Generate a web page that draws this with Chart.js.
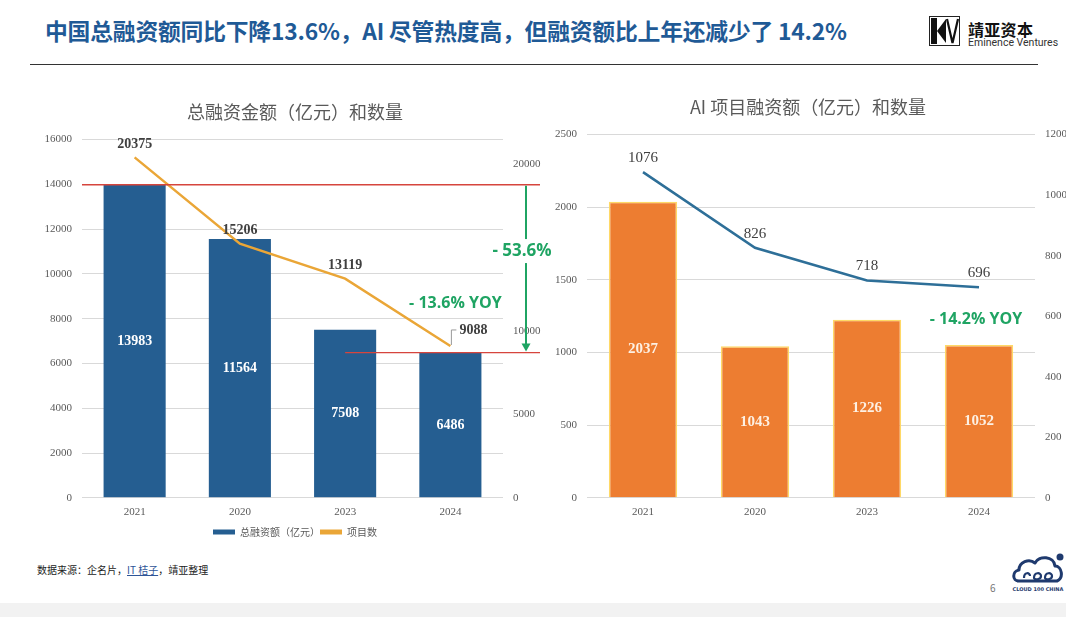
<!DOCTYPE html>
<html>
<head>
<meta charset="utf-8">
<script src="https://cdn.jsdelivr.net/npm/chart.js@4.4.1/dist/chart.umd.min.js"></script>
<style>
  html, body { margin:0; padding:0; background:#fff; }
  body { width:1066px; height:617px; position:relative; overflow:hidden; font-family:"Noto Sans CJK SC","Noto Sans",sans-serif; }
  #title { position:absolute; left:45px; top:14px; font-size:22.8px; font-weight:bold; color:#1f5a96; white-space:nowrap; letter-spacing:-0.2px; }
  #rule { position:absolute; left:30px; top:64px; width:1008px; height:0; border-top:1.5px solid #333; }
  #logo { position:absolute; left:929px; top:16px; }
  #logoCn { position:absolute; left:968px; top:21px; font-size:16px; line-height:16px; font-weight:bold; color:#111; letter-spacing:0.3px; }
  #logoEn { position:absolute; left:968px; top:37px; font-size:10.5px; line-height:11px; color:#333; font-family:"Roboto","Liberation Sans",sans-serif; white-space:nowrap; }
  #c1 { position:absolute; left:0; top:85px; }
  #c2 { position:absolute; left:545px; top:80px; }
  #source { position:absolute; left:37px; top:562px; font-size:10px; color:#222; white-space:nowrap; }
  #source span { color:#2f5597; text-decoration:underline; }
  #page { position:absolute; left:990px; top:580px; font-size:10px; color:#777; }
  #cloud { position:absolute; left:1010px; top:551px; }
  #strip { position:absolute; left:0; top:603px; width:1066px; height:14px; background:#f2f2f2; }
</style>
</head>
<body>
<div id="title">中国总融资额同比下降13.6%，AI 尽管热度高，但融资额比上年还减少了 14.2%</div>
<svg id="logo" width="32" height="31" viewBox="0 0 32 31">
  <rect x="0.5" y="0.5" width="30" height="29" fill="none" stroke="#222" stroke-width="1"/>
  <rect x="2" y="2" width="6" height="26" fill="#111"/>
  <polygon points="8,15 17,3 17,27" fill="#111"/>
  <polyline points="18,3 23.5,27 29,3" fill="none" stroke="#111" stroke-width="2.2"/>
</svg>
<div id="logoCn">靖亚资本</div>
<div id="logoEn">Eminence Ventures</div>
<div id="rule"></div>

<canvas id="c1" width="560" height="470"></canvas>
<canvas id="c2" width="521" height="450"></canvas>

<div id="source">数据来源：企名片，<span>IT 桔子</span>，靖亚整理</div>
<div id="page">6</div>
<svg id="cloud" width="56" height="42" viewBox="0 0 56 42">
  <path d="M9 30 C2 30 2 20 9 19 C9 11 19 7 25 12 C29 4 44 5 45 15 C52 15 54 27 47 30 Z" fill="none" stroke="#1f3a6e" stroke-width="3" stroke-linejoin="round"/>
  <path d="M14 27 C14 21 20 21 20 25 M24 27 C24 21 31 21 31 25 C31 29 24 29 24 27 M35 27 C35 21 42 21 42 25 C42 29 35 29 35 27" fill="none" stroke="#1f3a6e" stroke-width="2.2"/>
  <circle cx="50" cy="6" r="3.5" fill="#1f3a6e"/>
  <text x="28" y="40" font-size="5" text-anchor="middle" fill="#1f3a6e" font-family="DejaVu Sans" font-weight="bold">CLOUD 100 CHINA</text>
</svg>
<div id="strip"></div>

<script>
// ---------- data ----------
const categories = ['2021', '2020', '2023', '2024'];
const totalFunding = [13983, 11564, 7508, 6486];      // 总融资额（亿元）
const projectCount = [20375, 15206, 13119, 9088];     // 项目数
const aiFunding = [2037, 1043, 1226, 1052];           // AI 项目融资额（亿元）
const aiProjectCount = [1076, 826, 718, 696];         // AI 项目数量
const leftCountTicks = [0, 5000, 10000, 15000, 20000];

const TICK_FONT = { family: '"Liberation Serif", serif', size: 11 };
const TICK_COLOR = '#595959';
const GRID = '#d9d9d9';
const plain = v => String(v);

// value labels plugin
const valueLabels = {
  id: 'valueLabels',
  afterDatasetsDraw(chart) {
    const ctx = chart.ctx;
    chart.data.datasets.forEach((ds, i) => {
      const st = ds.labelStyle;
      if (!st) return;
      const meta = chart.getDatasetMeta(i);
      ctx.save();
      ctx.font = st.font;
      ctx.fillStyle = st.color;
      ctx.textAlign = 'center';
      ctx.textBaseline = 'middle';
      meta.data.forEach((el, j) => {
        if (st.skip && st.skip.includes(j)) return;
        const txt = String(ds.data[j]);
        const y = st.mode === 'center' ? (el.y + el.base) / 2 : el.y - st.offset;
        ctx.fillText(txt, el.x, y);
      });
      ctx.restore();
    });
  }
};

function legendLabels(chart) {
  const items = Chart.defaults.plugins.legend.labels.generateLabels(chart);
  items.sort((a, b) => a.datasetIndex - b.datasetIndex);
  return items.map(it => {
    const ds = chart.data.datasets[it.datasetIndex];
    it.fillStyle = ds.type === 'line' ? ds.borderColor : ds.backgroundColor;
    it.strokeStyle = it.fillStyle;
    it.lineWidth = 0;
    return it;
  });
}

// ---------- left chart annotations ----------
const leftNotes = {
  id: 'leftNotes',
  afterDraw(chart) {
    const ctx = chart.ctx;
    const y = chart.scales.y, x = chart.scales.x;
    const area = chart.chartArea;
    const rightEnd = 540;
    const topY = y.getPixelForValue(totalFunding[0]);
    const lowY = y.getPixelForValue(totalFunding[3]);
    ctx.save();
    ctx.strokeStyle = '#d6453d';
    ctx.lineWidth = 1.4;
    ctx.beginPath();
    ctx.moveTo(area.left, topY); ctx.lineTo(rightEnd, topY);
    ctx.moveTo(x.getPixelForValue(2), lowY); ctx.lineTo(rightEnd, lowY);
    ctx.stroke();
    const ax = 526;
    ctx.strokeStyle = '#1fa463';
    ctx.fillStyle = '#1fa463';
    ctx.lineWidth = 2;
    ctx.beginPath();
    ctx.moveTo(ax, topY + 1); ctx.lineTo(ax, lowY - 8);
    ctx.stroke();
    ctx.beginPath();
    ctx.moveTo(ax - 4.5, lowY - 9); ctx.lineTo(ax + 4.5, lowY - 9); ctx.lineTo(ax, lowY - 1); ctx.closePath();
    ctx.fill();
    const ly = topY + (lowY - topY) * 0.395;
    ctx.font = 'bold 17px "Open Sans", "Noto Sans", sans-serif';
    ctx.textAlign = 'center';
    ctx.textBaseline = 'middle';
    const w = ctx.measureText('- 53.6%').width;
    ctx.fillStyle = '#fff';
    ctx.fillRect(522 - w / 2 - 2, ly - 12, w + 4, 24);
    ctx.fillStyle = '#1fa463';
    ctx.fillText('- 53.6%', 522, ly);
    ctx.font = 'bold 16px "Open Sans", "Noto Sans", sans-serif';
    ctx.fillText('- 13.6% YOY', x.getPixelForValue(3) + 5, y.getPixelForValue(8700));
    const p = chart.getDatasetMeta(1).data[3];
    ctx.strokeStyle = '#999';
    ctx.lineWidth = 1;
    ctx.beginPath();
    ctx.moveTo(p.x + 1, p.y - 1); ctx.lineTo(p.x + 1, p.y - 16); ctx.lineTo(p.x + 6, p.y - 16);
    ctx.stroke();
    ctx.font = 'bold 14px "Liberation Serif", serif';
    ctx.fillStyle = '#404040';
    ctx.textAlign = 'left';
    ctx.fillText(String(projectCount[3]), p.x + 9, p.y - 16);
    ctx.restore();
  }
};

const rightNotes = {
  id: 'rightNotes',
  afterDraw(chart) {
    const ctx = chart.ctx;
    ctx.save();
    ctx.font = 'bold 16px "Open Sans", "Noto Sans", sans-serif';
    ctx.fillStyle = '#1fa463';
    ctx.textAlign = 'center';
    ctx.textBaseline = 'middle';
    ctx.fillText('- 14.2% YOY', chart.scales.x.getPixelForValue(3) - 3, chart.scales.y.getPixelForValue(1229));
    ctx.restore();
  }
};

function titleOpts(text) {
  return {
    display: true, text,
    color: '#595959',
    font: { family: '"Noto Sans CJK SC", sans-serif', size: 18, weight: 'normal' },
    padding: { top: 16, bottom: 17 }
  };
}

function xScale() {
  return {
    grid: { display: false, drawTicks: false }, border: { display: false },
    ticks: { color: TICK_COLOR, font: TICK_FONT, padding: 8 }
  };
}

// ---------- chart 1 ----------
new Chart(document.getElementById('c1'), {
  data: {
    labels: categories,
    datasets: [
      {
        type: 'bar', label: '总融资额（亿元）', data: totalFunding,
        backgroundColor: '#255e91', yAxisID: 'y', order: 2,
        barPercentage: 0.59, categoryPercentage: 1,
        labelStyle: { mode: 'center', font: 'bold 14px "Liberation Serif", serif', color: '#ffffff' }
      },
      {
        type: 'line', label: '项目数', data: projectCount,
        borderColor: '#eaa637', backgroundColor: '#eaa637', borderWidth: 2.5,
        pointRadius: 0, tension: 0, yAxisID: 'y1', order: 1,
        labelStyle: { mode: 'above', offset: 13, font: 'bold 14px "Liberation Serif", serif', color: '#404040', skip: [3] }
      }
    ]
  },
  options: {
    responsive: false, animation: false,
    layout: { padding: { left: 30, right: 0, top: 0, bottom: 8 } },
    plugins: {
      title: titleOpts('总融资金额（亿元）和数量'),
      legend: {
        position: 'bottom',
        labels: {
          boxWidth: 22, boxHeight: 5, padding: 0, color: '#595959',
          font: { family: '"Noto Sans CJK SC", sans-serif', size: 10 },
          generateLabels: legendLabels
        }
      },
      tooltip: { enabled: false }
    },
    scales: {
      x: xScale(),
      y: {
        position: 'left', min: 0, max: 16000,
        ticks: { stepSize: 2000, color: TICK_COLOR, font: TICK_FONT, padding: 10, callback: plain },
        grid: { color: GRID, drawTicks: false }, border: { display: false },
        afterFit(s) { s.width = 52; }
      },
      y1: {
        position: 'right', min: 0, max: 21440,
        ticks: { color: TICK_COLOR, font: TICK_FONT, padding: 10, callback: plain },
        afterBuildTicks(s) { s.ticks = leftCountTicks.map(v => ({ value: v })); },
        grid: { drawOnChartArea: false, drawTicks: false }, border: { display: false },
        afterFit(s) { s.width = 57; }
      }
    }
  },
  plugins: [valueLabels, leftNotes]
});

// ---------- chart 2 ----------
new Chart(document.getElementById('c2'), {
  data: {
    labels: categories,
    datasets: [
      {
        type: 'bar', label: 'AI 项目融资额（亿元）', data: aiFunding,
        backgroundColor: '#ed7d31', borderColor: '#ffd966', borderWidth: 1.5,
        yAxisID: 'y', order: 2,
        barPercentage: 0.61, categoryPercentage: 1,
        labelStyle: { mode: 'center', font: 'bold 15px "Liberation Serif", serif', color: '#fdf0e3' }
      },
      {
        type: 'line', label: 'AI 项目数量', data: aiProjectCount,
        borderColor: '#2e6f98', backgroundColor: '#2e6f98', borderWidth: 2.5,
        pointRadius: 0, tension: 0, yAxisID: 'y1', order: 1,
        labelStyle: { mode: 'above', offset: 14, font: '15px "Liberation Serif", serif', color: '#404040' }
      }
    ]
  },
  options: {
    responsive: false, animation: false,
    layout: { padding: { left: 5, right: 0, top: 0, bottom: 3 } },
    plugins: {
      title: titleOpts('AI 项目融资额（亿元）和数量'),
      legend: { display: false },
      tooltip: { enabled: false }
    },
    scales: {
      x: xScale(),
      y: {
        position: 'left', min: 0, max: 2500,
        ticks: { stepSize: 500, color: TICK_COLOR, font: TICK_FONT, padding: 10, callback: plain },
        grid: { color: GRID, drawTicks: false }, border: { display: false },
        afterFit(s) { s.width = 37; }
      },
      y1: {
        position: 'right', min: 0, max: 1200,
        ticks: { stepSize: 200, color: TICK_COLOR, font: TICK_FONT, padding: 10, callback: plain },
        grid: { drawOnChartArea: false, drawTicks: false }, border: { display: false },
        afterFit(s) { s.width = 31; }
      }
    }
  },
  plugins: [valueLabels, rightNotes]
});
</script>
</body>
</html>
